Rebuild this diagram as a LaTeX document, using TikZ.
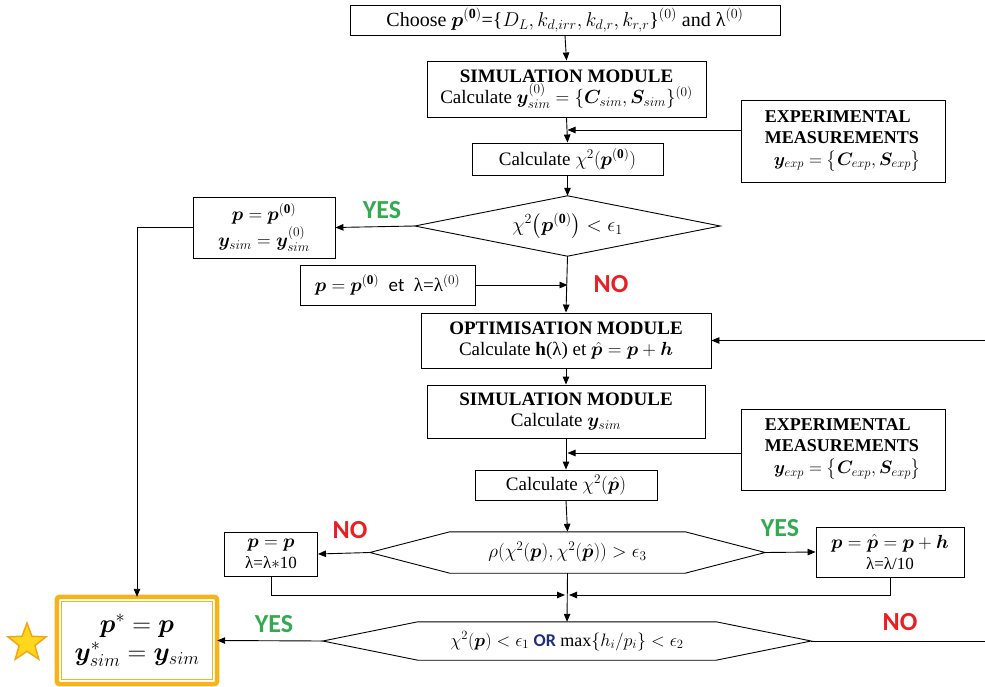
\RequirePackage{fix-cm}
\documentclass[tikz,border=0pt]{standalone}
\usepackage{amsmath}
\usepackage{bm}
\usepackage{fontspec}
\setmainfont{Liberation Serif}
\newfontfamily\calibri{Carlito}
\usetikzlibrary{arrows.meta,shapes.geometric}
\definecolor{yesgreen}{RGB}{52,170,80}
\definecolor{nored}{RGB}{235,30,35}
\definecolor{ornavy}{RGB}{35,45,125}
\definecolor{goldline}{RGB}{245,180,25}
\definecolor{staryellow}{RGB}{255,215,30}
\definecolor{starorange}{RGB}{245,165,20}
\tikzset{
  base/.style={font=\fontsize{19}{21}\selectfont},
  box/.style={base,draw,line width=0.9,inner sep=0pt,align=center},
  holder/.style={base,draw=none,inner sep=0pt,align=center},
  outline/.style={line width=0.9},
  conn/.style={line width=0.9,-{Triangle[length=8pt,width=6.5pt]}},
  plain/.style={line width=0.9},
  yeslabel/.style={font=\calibri\bfseries\fontsize{26}{28}\selectfont,text=yesgreen,inner sep=0pt},
  nolabel/.style={font=\calibri\bfseries\fontsize{26}{28}\selectfont,text=nored,inner sep=0pt},
}
\newcommand{\lamsize}{\fontsize{17}{18}\selectfont}
\begin{document}
\begin{tikzpicture}[x=1pt,y=-1pt]
\useasboundingbox (0,0) rectangle (985,687);

% boxes
\node[box,minimum width=430,minimum height=30,font=\fontsize{20}{22}\selectfont] (choose) at (565,20)
  {Choose $\bm{p}^{(\mathbf{0})}$=\{$D_L, k_{d,irr}, k_{d,r}, k_{r,r}$\}$^{(0)}$ and λ$^{(0)}$};
\node[box,minimum width=279,minimum height=56] (sim1) at (566.5,89)
  {\textbf{SIMULATION MODULE}\\[0pt] Calculate $\bm{y}_{sim}^{(0)} = \{\bm{C}_{sim}, \bm{S}_{sim}\}^{(0)}$};
\node[box,minimum width=204,minimum height=82,align=left,font=\fontsize{18}{20}\selectfont] (exp1) at (843,141)
  {\textbf{EXPERIMENTAL}\\[1pt]\textbf{MEASUREMENTS}\\[2pt] \hspace{0.5em}$\bm{y}_{exp} = \big\{\bm{C}_{exp}, \bm{S}_{exp}\big\}$};
\node[box,minimum width=191,minimum height=32] (calc1) at (567.5,159)
  {Calculate $\chi^2(\bm{p}^{(\mathbf{0})})$};
\node[holder,minimum width=305,minimum height=60,font=\fontsize{20}{22}\selectfont] (d1) at (567.5,226)
  {\raisebox{-6pt}{$\chi^2\big(\bm{p}^{(\mathbf{0})}\big) < \epsilon_1$}};
\draw[outline] (d1.west) -- (d1.north) -- (d1.east) -- (d1.south) -- cycle;
\node[box,minimum width=142,minimum height=61] (pp0) at (264,227.5)
  {$\bm{p} = \bm{p}^{(\mathbf{0})}$\\[2pt] $\bm{y}_{sim} = \bm{y}_{sim}^{(0)}$};
\node[box,minimum width=175,minimum height=40] (p0et) at (387.5,285)
  {$\bm{p} = \bm{p}^{(\mathbf{0})}$\ \ {\calibri et}\ \ λ=λ$^{(0)}$};
\node[box,minimum width=290,minimum height=55] (opt) at (566,340.5)
  {\textbf{OPTIMISATION MODULE}\\[0pt] Calculate $\mathbf{h}$(λ) et $\hat{\bm{p}} = \bm{p} + \bm{h}$};
\node[box,minimum width=278,minimum height=53] (sim2) at (566,411.5)
  {\textbf{SIMULATION MODULE}\\[0pt] Calculate $\bm{y}_{sim}$};
\node[box,minimum width=204,minimum height=81,align=left,font=\fontsize{18}{20}\selectfont] (exp2) at (843,449.5)
  {\textbf{EXPERIMENTAL}\\[1pt]\textbf{MEASUREMENTS}\\[2pt] \hspace{0.5em}$\bm{y}_{exp} = \big\{\bm{C}_{exp}, \bm{S}_{exp}\big\}$};
\node[box,minimum width=182,minimum height=30] (calc2) at (566,485)
  {Calculate $\chi^2(\hat{\bm{p}})$};

% hexagon 1
\node[holder,minimum width=395,minimum height=41] (h1) at (567.5,552.5)
  {$\rho(\chi^2(\bm{p}), \chi^2(\hat{\bm{p}})) > \epsilon_3$};
\draw[outline] (h1.west) -- ([xshift=80]h1.north west) -- ([xshift=-80]h1.north east)
  -- (h1.east) -- ([xshift=-80]h1.south east) -- ([xshift=80]h1.south west) -- cycle;
\node[box,minimum width=93,minimum height=44] (nobox) at (271,554)
  {$\bm{p} = \bm{p}$\\[0pt] {\lamsize λ=λ$*$10}};
\node[box,minimum width=148,minimum height=50] (yesbox) at (890,552)
  {$\bm{p} = \hat{\bm{p}} = \bm{p} + \bm{h}$\\[0pt] {\lamsize λ=λ/10}};

% hexagon 2
\node[holder,minimum width=488,minimum height=38,font=\fontsize{18}{20}\selectfont] (h2) at (567,641)
  {$\chi^2(\bm{p}) < \epsilon_1$ {\calibri\bfseries\color{ornavy}OR} $\max\{h_i/p_i\} < \epsilon_2$};
\draw[outline] (h2.west) -- ([xshift=95]h2.north west) -- ([xshift=-95]h2.north east)
  -- (h2.east) -- ([xshift=-95]h2.south east) -- ([xshift=95]h2.south west) -- cycle;

% final box
\node[holder,minimum width=160,minimum height=87,font=\fontsize{26}{28}\selectfont] (final) at (137,640.5)
  {$\bm{p}^* = \bm{p}$\\[0pt] $\bm{y}^*_{sim} = \bm{y}_{sim}$};
\draw[goldline,line width=4.5,rounded corners=3] (final.north west) rectangle (final.south east);
\draw[goldline,line width=1] ([shift={(5,5)}]final.north west) rectangle ([shift={(-5,-5)}]final.south east);
\node[star,star points=5,star point ratio=2.4,minimum size=40,inner sep=0pt,
  fill=staryellow,draw=starorange,line width=1.5] (star) at (27,643) {};

% coordinates
\coordinate (j1) at (567.5,130);
\coordinate (j2) at (567.5,285);
\coordinate (j3) at (567.5,453);
\coordinate (jx) at (567,595);
\coordinate (lcorner) at (137,227.5);
\coordinate (rin) at (985,340.5);
\coordinate (rout) at (985,641);
\coordinate (nodown) at (271,595);
\coordinate (yesdown) at (890,595);

% connectors
\draw[conn] (choose.south) -- (sim1.north);
\draw[conn] (sim1.south) -- (calc1.north);
\draw[conn] (exp1.west |- j1) -- (j1);
\draw[conn] (calc1.south) -- (d1.north);
\draw[conn] (d1.west) -- (pp0.east);
\draw[conn] (pp0.west) -- (lcorner) -- (final.north);
\draw[conn] (d1.south) -- (opt.north);
\draw[conn] (p0et.east) -- (j2);
\draw[conn] (rin) -- (opt.east);
\draw[conn] (opt.south) -- (sim2.north);
\draw[conn] (sim2.south) -- (calc2.north);
\draw[conn] (exp2.west |- j3) -- (j3);
\draw[conn] (calc2.south) -- (h1.north);
\draw[conn] (h1.west) -- (nobox.east);
\draw[conn] (h1.east) -- (yesbox.west);
\draw[conn] (nobox.south) -- (nodown) -- ([xshift=-2]jx);
\draw[conn] (yesbox.south) -- (yesdown) -- ([xshift=2]jx);
\draw[conn] (h1.south) -- (h2.north);
\draw[conn] (h2.west) -- (final.east);
\draw[plain] (h2.east) -- (rout);

% labels
\node[yeslabel] (yes1) at (382,210) {YES};
\node[nolabel] (no1) at (611,284) {NO};
\node[nolabel] (no2) at (350,530) {NO};
\node[yeslabel] (yes2) at (780,528) {YES};
\node[yeslabel] (yes3) at (274,624) {YES};
\node[nolabel] (no3) at (900,622) {NO};
\end{tikzpicture}
\end{document}
